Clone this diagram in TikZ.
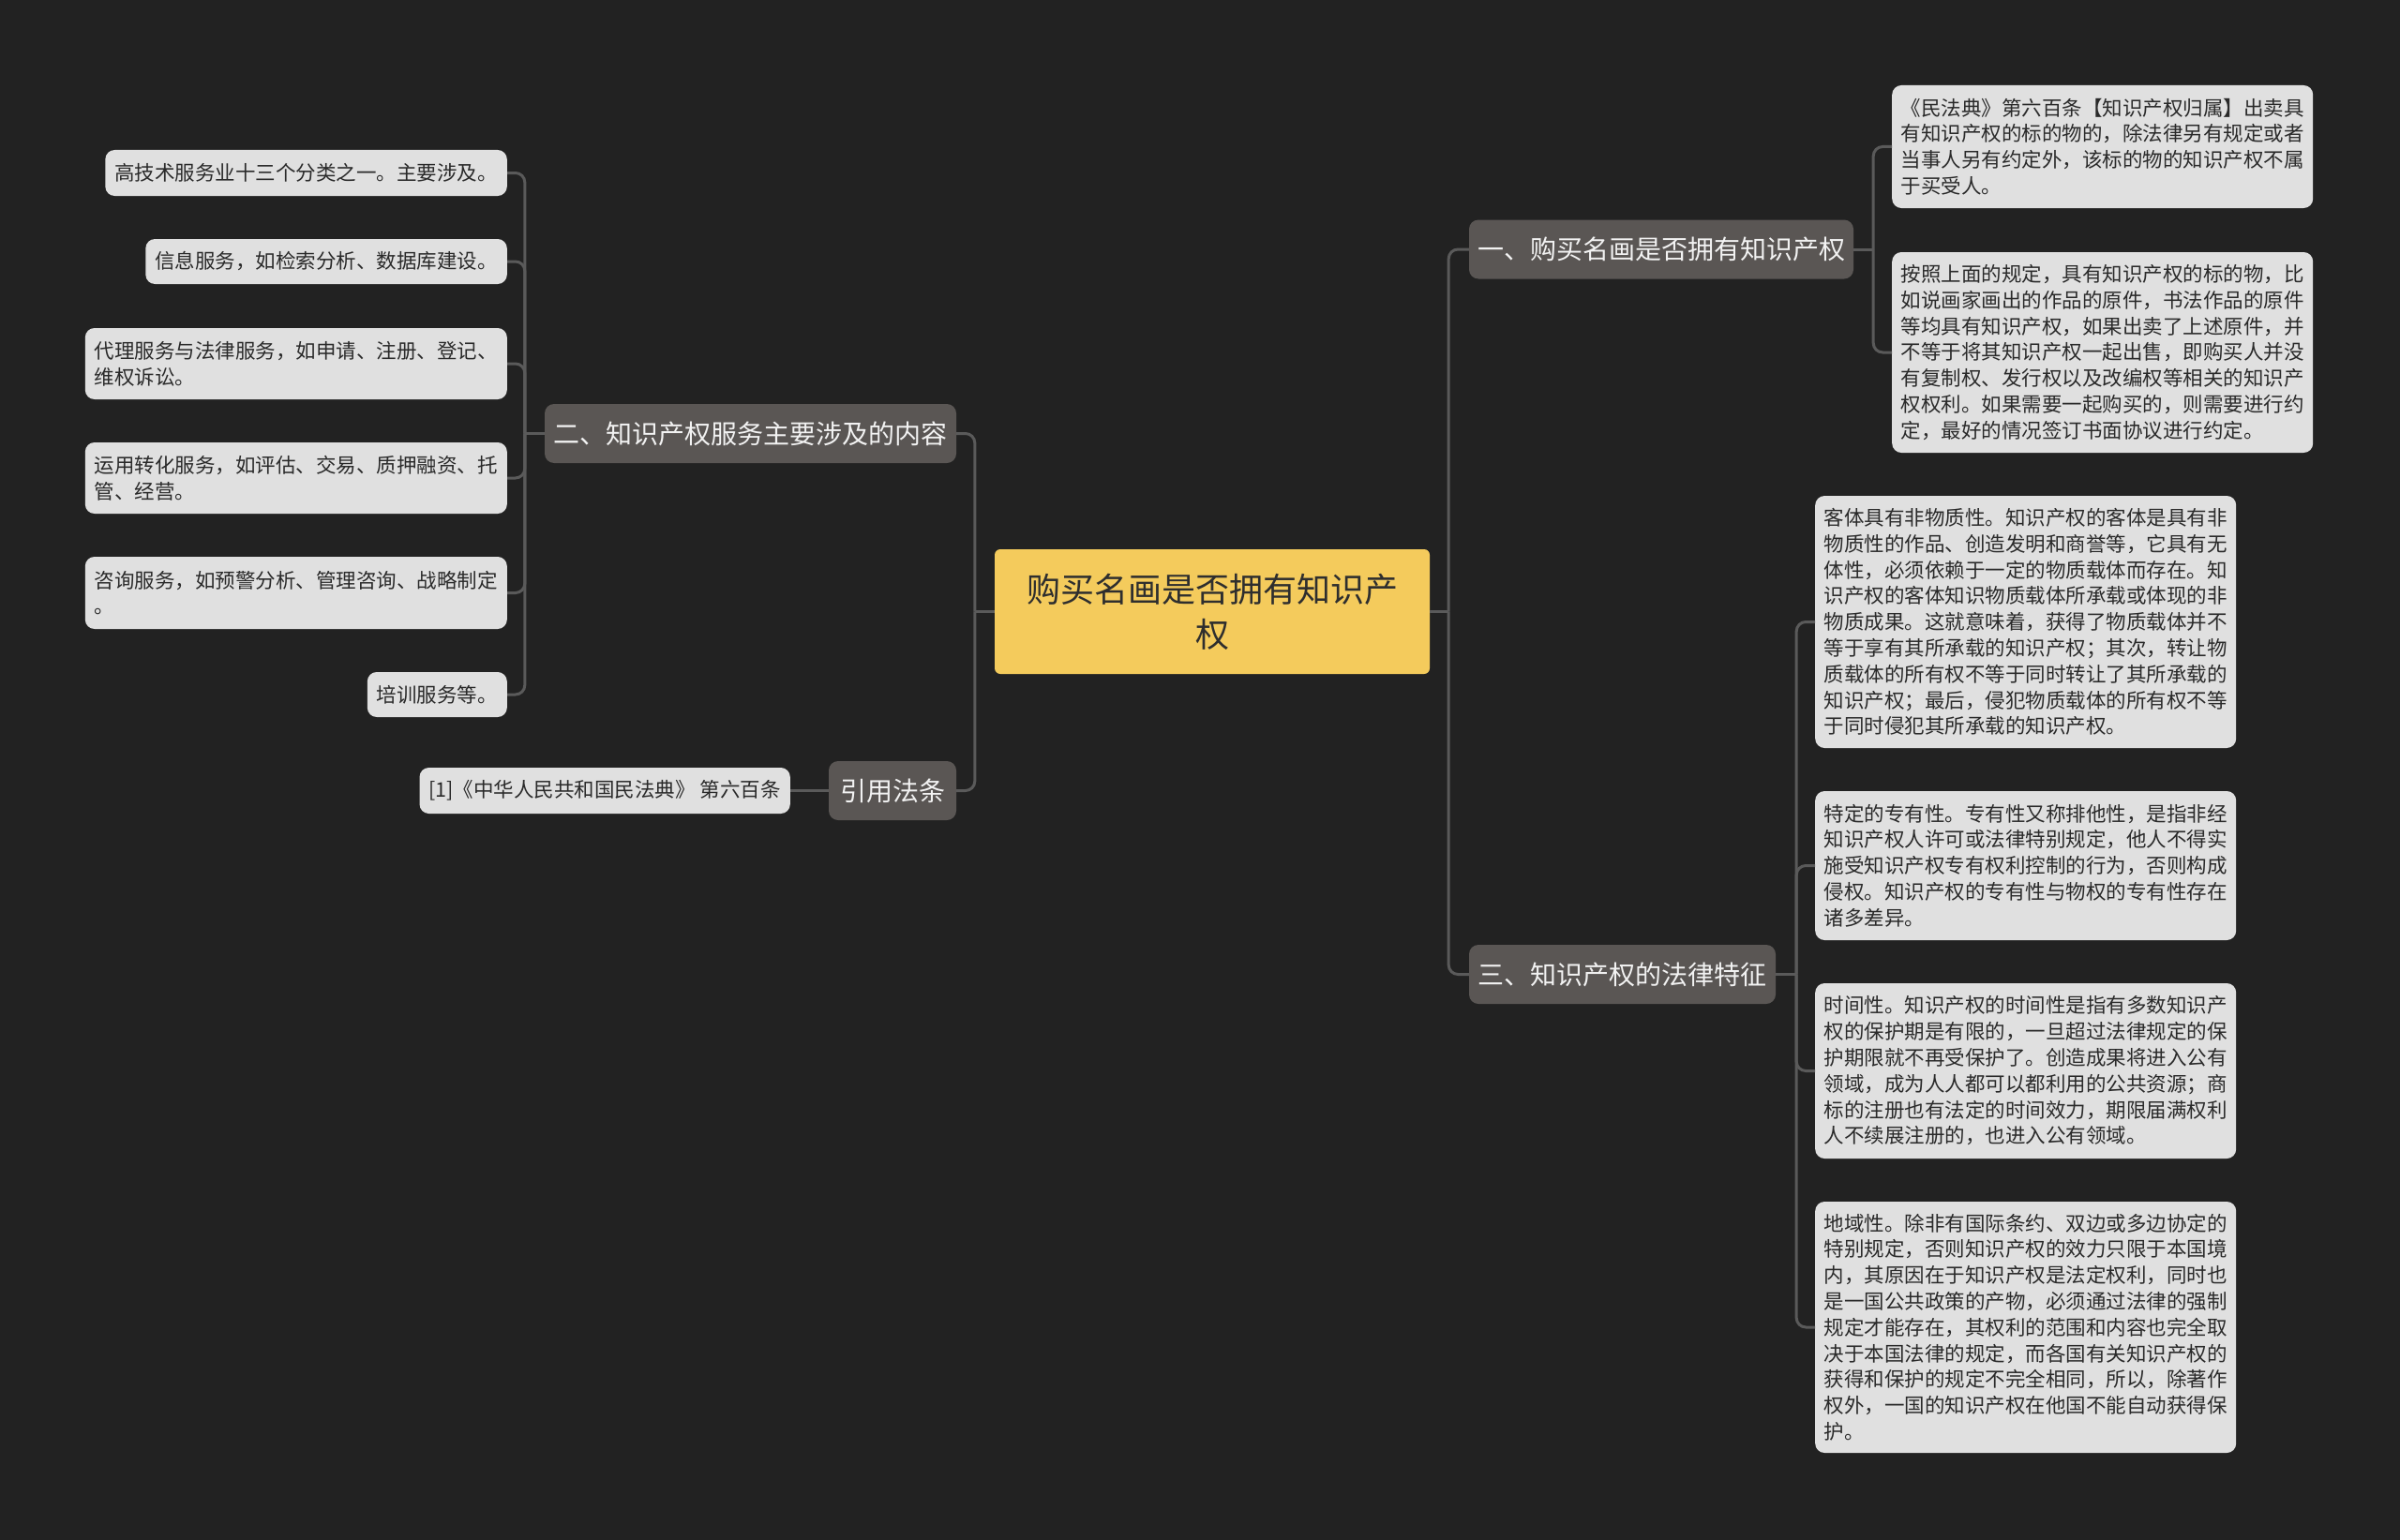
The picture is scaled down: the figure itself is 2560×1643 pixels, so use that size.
\documentclass[tikz,border=0pt]{standalone}
\usepackage{fontspec}
\setmainfont{Noto Sans CJK SC}
\definecolor{bgdark}{HTML}{222222}
\definecolor{linkgray}{HTML}{5A5A5A}
\definecolor{rootyellow}{HTML}{F4CB5C}
\definecolor{rootink}{HTML}{2E2E2E}
\definecolor{branchgray}{HTML}{5A5654}
\definecolor{branchink}{HTML}{F2F2F2}
\definecolor{leafgray}{HTML}{E0E0E0}
\definecolor{leafink}{HTML}{2A2A2A}
\begin{document}
\begin{tikzpicture}[x=1pt,y=-1pt,
    link/.style={draw=linkgray,line width=3pt,rounded corners=10pt},
    rootbox/.style={fill=rootyellow,text=rootink,rounded corners=6pt,align=center,
      font=\fontsize{36}{48}\selectfont,minimum width=464,minimum height=133},
    branchbox/.style={fill=branchgray,text=branchink,rounded corners=10pt,
      font=\fontsize{28}{34}\selectfont,minimum height=63,inner xsep=9pt},
    leafbox/.style={fill=leafgray,text=leafink,rounded corners=10pt,align=left,
      font=\fontsize{21.5}{27.8}\selectfont,inner xsep=10pt,inner ysep=8pt},
    rleaf/.style={leafbox,text width=430pt,inner xsep=9.5pt,anchor=west},
    lleaf/.style={leafbox,anchor=east}]
  \useasboundingbox (0,0) rectangle (2560,1643);
  \fill[bgdark] (0,0) rectangle (2560,1643);

  \node[rootbox] (root) at (1293,652.5) {购买名画是否拥有知识产\\权};

  \node[branchbox,minimum width=410] (b1) at (1772,266) {一、购买名画是否拥有知识产权};
  \node[branchbox,minimum width=439] (b2) at (800.5,462.5) {二、知识产权服务主要涉及的内容};
  \node[branchbox,minimum width=327] (b3) at (1730.5,1039.5) {三、知识产权的法律特征};
  \node[branchbox,minimum width=136] (b4) at (952,843.5) {引用法条};

  \node[rleaf,minimum height=131] (k1) at (2018,156.5) {《民法典》第六百条【知识产权归属】出卖具\\有知识产权的标的物的，除法律另有规定或者\\当事人另有约定外，该标的物的知识产权不属\\于买受人。};
  \node[rleaf,minimum height=214] (k2) at (2018,376) {按照上面的规定，具有知识产权的标的物，比\\如说画家画出的作品的原件，书法作品的原件\\等均具有知识产权，如果出卖了上述原件，并\\不等于将其知识产权一起出售，即购买人并没\\有复制权、发行权以及改编权等相关的知识产\\权权利。如果需要一起购买的，则需要进行约\\定，最好的情况签订书面协议进行约定。};
  \node[rleaf,minimum height=269] (k3) at (1936,663.5) {客体具有非物质性。知识产权的客体是具有非\\物质性的作品、创造发明和商誉等，它具有无\\体性，必须依赖于一定的物质载体而存在。知\\识产权的客体知识物质载体所承载或体现的非\\物质成果。这就意味着，获得了物质载体并不\\等于享有其所承载的知识产权；其次，转让物\\质载体的所有权不等于同时转让了其所承载的\\知识产权；最后，侵犯物质载体的所有权不等\\于同时侵犯其所承载的知识产权。};
  \node[rleaf,minimum height=159] (k4) at (1936,923.5) {特定的专有性。专有性又称排他性，是指非经\\知识产权人许可或法律特别规定，他人不得实\\施受知识产权专有权利控制的行为，否则构成\\侵权。知识产权的专有性与物权的专有性存在\\诸多差异。};
  \node[rleaf,minimum height=187] (k5) at (1936,1142.5) {时间性。知识产权的时间性是指有多数知识产\\权的保护期是有限的，一旦超过法律规定的保\\护期限就不再受保护了。创造成果将进入公有\\领域，成为人人都可以都利用的公共资源；商\\标的注册也有法定的时间效力，期限届满权利\\人不续展注册的，也进入公有领域。};
  \node[rleaf,minimum height=268] (k6) at (1936,1416) {地域性。除非有国际条约、双边或多边协定的\\特别规定，否则知识产权的效力只限于本国境\\内，其原因在于知识产权是法定权利，同时也\\是一国公共政策的产物，必须通过法律的强制\\规定才能存在，其权利的范围和内容也完全取\\决于本国法律的规定，而各国有关知识产权的\\获得和保护的规定不完全相同，所以，除著作\\权外，一国的知识产权在他国不能自动获得保\\护。};

  \node[lleaf,minimum height=49] (a1) at (541,184.5) {高技术服务业十三个分类之一。主要涉及。};
  \node[lleaf,minimum height=48] (a2) at (541,279) {信息服务，如检索分析、数据库建设。};
  \node[lleaf,minimum height=76] (a3) at (541,388) {代理服务与法律服务，如申请、注册、登记、\\维权诉讼。};
  \node[lleaf,minimum height=76] (a4) at (541,510) {运用转化服务，如评估、交易、质押融资、托\\管、经营。};
  \node[lleaf,minimum height=77] (a5) at (541,632.5) {咨询服务，如预警分析、管理咨询、战略制定\\。};
  \node[lleaf,minimum height=48] (a6) at (541,741) {培训服务等。};
  \node[lleaf,minimum height=49] (q1) at (843,843.5) {[1]《中华人民共和国民法典》 第六百条};

  % junctions where each trunk meets its parent
  \coordinate (lj) at ([xshift=-21pt]root.west);
  \coordinate (rj) at ([xshift=20pt]root.east);
  \coordinate (j1) at ([xshift=21pt]b1.east);
  \coordinate (j2) at ([xshift=-21pt]b2.west);
  \coordinate (j3) at ([xshift=22pt]b3.east);

  \draw[link] (root.west) -- (lj);
  \draw[link] (root.east) -- (rj);
  \foreach \b in {b2,b4} \draw[link] (lj) |- (\b.east);
  \foreach \b in {b1,b3} \draw[link] (rj) |- (\b.west);
  \draw[link] (b1.east) -- (j1);
  \foreach \k in {k1,k2} \draw[link] (j1) |- (\k.west);
  \draw[link] (b3.east) -- (j3);
  \foreach \k in {k3,k4,k5,k6} \draw[link] (j3) |- (\k.west);
  \draw[link] (b2.west) -- (j2);
  \foreach \a in {a1,a2,a3,a4,a5,a6} \draw[link] (j2) |- (\a.east);
  \draw[link] (b4.west) -- (q1.east);
\end{tikzpicture}
\end{document}
